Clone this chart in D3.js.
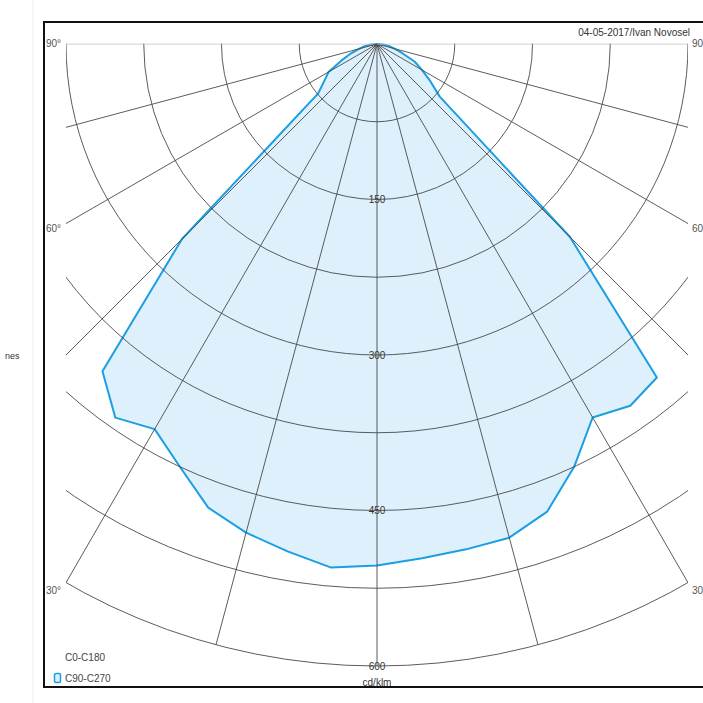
<!DOCTYPE html>
<html>
<head>
<meta charset="utf-8">
<script src="https://cdn.jsdelivr.net/npm/d3@7"></script>
<style>
  body { margin: 0; background: #fff; }
  text { font-family: "Liberation Sans", Arial, sans-serif; }
</style>
</head>
<body>
<div id="chart"></div>
<script>
const width = 703;
const height = 703;

// data: gamma angle (from nadir) and intensity in cd/klm
const gamma = [0, 5, 10, 15, 20, 25, 30, 35, 40, 45, 50, 55, 60, 65, 70, 75, 80, 85, 90];
const c90 = [503, 498, 495, 493, 480, 450, 416, 426, 420, 263, 79, 63, 50, 40, 26, 18, 12, 7, 0];
const c270 = [503, 507, 497, 488, 476, 450, 429, 440, 412, 266, 74, 62, 54, 38, 27, 18, 12, 7, 0];
const ringValues = [75, 150, 225, 300, 375, 450, 525, 600];
const ringLabels = [150, 300, 450, 600];
const spokeAngles = d3.range(-90, 91, 15);
const angleLabels = [
  { text: "90°", y: 47 },
  { text: "60°", y: 232 },
  { text: "30°", y: 594 }
];

const cx = 377, cy = 44;

const svg = d3.select("#chart")
  .append("svg")
  .attr("width", width)
  .attr("height", height);

// page background bits
svg.append("line")
  .attr("x1", 33).attr("x2", 33).attr("y1", 0).attr("y2", height)
  .attr("stroke", "#ececec");

// frame
svg.append("rect")
  .attr("x", 44).attr("y", 22)
  .attr("width", 700).attr("height", 665)
  .attr("fill", "#fff")
  .attr("stroke", "#111")
  .attr("stroke-width", 2);

const r = d3.scaleLinear().domain([0, 600]).range([0, 622]);
const rad = d => d * Math.PI / 180;

svg.append("clipPath").attr("id", "clip")
  .append("rect")
  .attr("x", 66).attr("y", 43.5)
  .attr("width", 622).attr("height", 640);

const g = svg.append("g").attr("transform", `translate(${cx},${cy})`);

// polygon points: right side (C90) from 90 to 0, then left (C270) from 0 to 90
const pts = [];
for (let i = gamma.length - 1; i >= 0; i--) pts.push({ a: Math.PI - rad(gamma[i]), v: c90[i] });
for (let i = 0; i < gamma.length; i++) pts.push({ a: Math.PI + rad(gamma[i]), v: c270[i] });

const radial = d3.lineRadial()
  .angle(d => d.a)
  .radius(d => r(d.v))
  .curve(d3.curveLinearClosed);

g.append("path")
  .attr("d", radial(pts))
  .attr("fill", "#ddf0fb")
  .attr("stroke", "none");

// grid
const grid = svg.append("g").attr("clip-path", "url(#clip)")
  .append("g").attr("transform", `translate(${cx},${cy})`);

grid.selectAll("circle.ring")
  .data(ringValues)
  .enter()
  .append("circle")
  .attr("class", "ring")
  .attr("r", d => r(d))
  .attr("fill", "none")
  .attr("stroke", "#4a4a4a")
  .attr("stroke-width", 0.9);

grid.selectAll("line.spoke")
  .data(spokeAngles)
  .enter()
  .append("line")
  .attr("class", "spoke")
  .attr("x1", 0).attr("y1", 0)
  .attr("x2", d => r(600) * Math.sin(rad(d)))
  .attr("y2", d => r(600) * Math.cos(rad(d)))
  .attr("stroke", d => Math.abs(d) === 90 ? "#bdbdbd" : "#4a4a4a")
  .attr("stroke-width", 0.9);

// outline
g.append("path")
  .attr("d", radial(pts))
  .attr("fill", "none")
  .attr("stroke", "#1a9fe3")
  .attr("stroke-width", 2)
  .attr("stroke-linejoin", "round");

// ring labels
g.selectAll("text.ring")
  .data(ringLabels)
  .enter()
  .append("text")
  .attr("x", 0)
  .attr("y", d => r(d) + 3.5)
  .attr("text-anchor", "middle")
  .attr("font-size", 10)
  .attr("fill", "#333")
  .attr("stroke", d => d < 500 ? "#ddf0fb" : "#fff")
  .attr("stroke-width", 3)
  .attr("paint-order", "stroke")
  .text(d => d);

// angle labels
svg.selectAll("text.al")
  .data(angleLabels)
  .enter()
  .append("text")
  .attr("x", 46)
  .attr("y", d => d.y)
  .attr("font-size", 10)
  .attr("fill", "#555")
  .text(d => d.text);

svg.selectAll("text.ar")
  .data(angleLabels)
  .enter()
  .append("text")
  .attr("x", 692)
  .attr("y", d => d.y)
  .attr("font-size", 10)
  .attr("fill", "#555")
  .text(d => d.text);

// texts
svg.append("text")
  .attr("x", 690).attr("y", 36)
  .attr("text-anchor", "end")
  .attr("font-size", 10)
  .attr("fill", "#333")
  .text("04-05-2017/Ivan Novosel");

svg.append("text")
  .attr("x", cx).attr("y", 686)
  .attr("text-anchor", "middle")
  .attr("font-size", 10)
  .attr("fill", "#333")
  .text("cd/klm");

svg.append("text")
  .attr("x", 5).attr("y", 359)
  .attr("font-size", 9)
  .attr("fill", "#333")
  .text("nes");

svg.append("text")
  .attr("x", 65).attr("y", 661)
  .attr("font-size", 10)
  .attr("fill", "#444")
  .text("C0-C180");

svg.append("rect")
  .attr("x", 54.5).attr("y", 673.5)
  .attr("width", 6).attr("height", 9)
  .attr("rx", 1.5)
  .attr("fill", "#ddf0fb")
  .attr("stroke", "#1a9fe3")
  .attr("stroke-width", 1.5);

svg.append("text")
  .attr("x", 65).attr("y", 682)
  .attr("font-size", 10)
  .attr("fill", "#444")
  .text("C90-C270");
</script>
</body>
</html>
